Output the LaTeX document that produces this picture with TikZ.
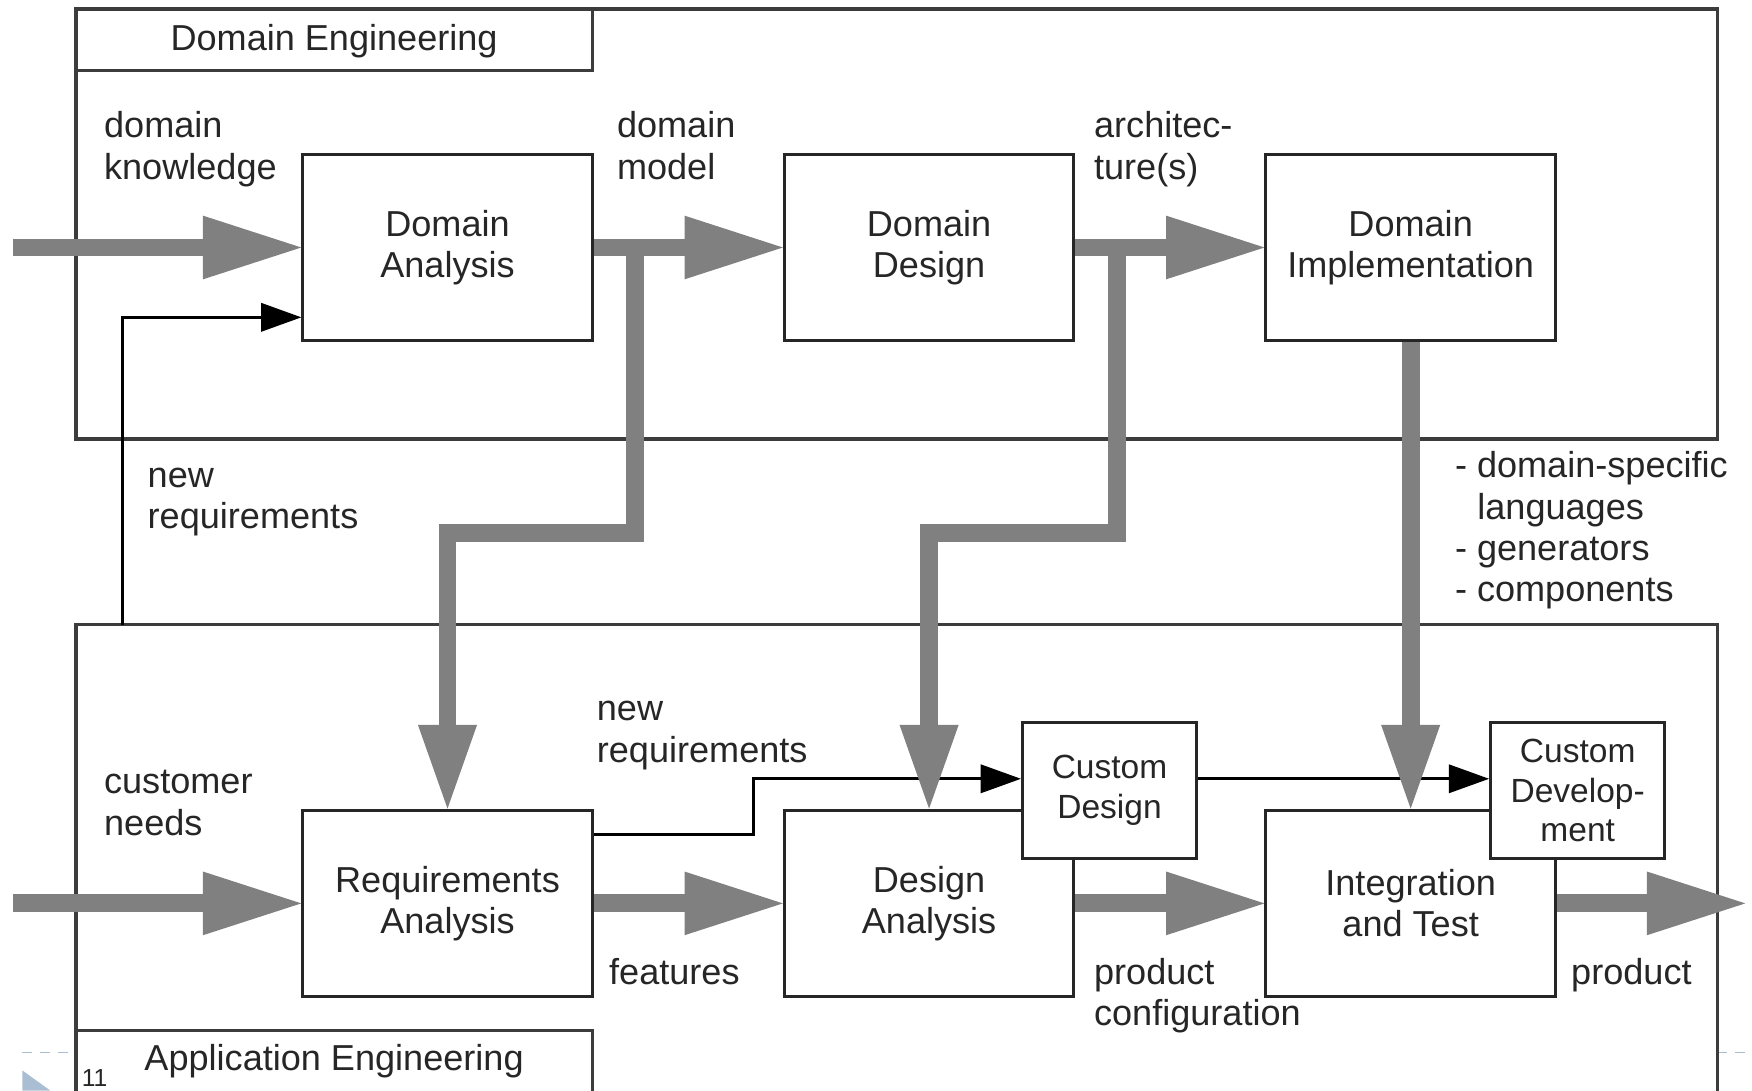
\documentclass[tikz,border=0pt]{standalone}
\usepackage{fontspec}
\setmainfont{Liberation Sans}
\usetikzlibrary{arrows.meta,calc}
\definecolor{flowgrey}{HTML}{808080}
\definecolor{framegrey}{HTML}{3C3C3C}
\definecolor{inkgrey}{HTML}{262626}
\definecolor{slideblue}{HTML}{A9BED3}

\begin{document}
\begin{tikzpicture}[x=1pt,y=-1pt,
  every node/.style={font=\fontsize{32.3pt}{37pt}\selectfont, text=inkgrey},
  frame/.style={draw=framegrey, line width=3pt},
  title/.style={anchor=base, inner sep=0pt},
  process/.style={draw=inkgrey, line width=2.7pt, fill=white,
    minimum width=259pt, minimum height=167pt, align=center, inner sep=0pt},
  custombox/.style={draw=inkgrey, line width=2.7pt, fill=white,
    minimum width=156pt, minimum height=121pt, align=center, inner sep=0pt,
    font=\fontsize{30pt}{35.5pt}\selectfont},
  lbl/.style={align=left, inner sep=0pt, anchor=base west},
  flow/.style={draw=flowgrey, line width=16pt,
    -{Triangle[length=88pt,width=57pt,line width=0pt]}},
  flowdown/.style={draw=flowgrey, line width=16pt, line join=miter,
    -{Triangle[length=75pt,width=53pt,line width=0pt]}},
  thinflow/.style={draw=black, line width=2.7pt,
    -{Triangle[length=36pt,width=26pt,line width=0pt]}},
]
\useasboundingbox (0,0) rectangle (1568,976);

% slide decoration
\draw[slideblue, line width=1.3pt, dash pattern=on 9pt off 7pt] (20,942) -- (68,942);
\draw[slideblue, line width=1.3pt, dash pattern=on 9pt off 7pt] (1537,942) -- (1568,942);
\fill[slideblue] (20,958) -- (45,976) -- (20,976) -- cycle;

% engineering frames with their title tabs
\draw[frame] (68,8) rectangle (1537,393);
\draw[frame] (68,8) rectangle (530,63);
\node[title] (detitle) at (299,45.5) {Domain Engineering};
\draw[frame] (68,995) -- (68,559) -- (1537,559) -- (1537,995);
\draw[frame] (68,995) -- (68,922) -- (530,922) -- (530,995);
\node[title] (aetitle) at (299,958) {Application Engineering};

% process boxes
\node[process] (da)  at (400.5,221.5)  {Domain\\Analysis};
\node[process] (dd)  at (831.5,221.5)  {Domain\\Design};
\node[process] (di)  at (1262.5,221.5) {Domain\\Implementation};
\node[process] (ra)  at (400.5,808.5)  {Requirements\\Analysis};
\node[process] (dan) at (831.5,808.5)  {Design\\Analysis};
\node[process] (it)  at (1262.5,808.5) {Integration\\and Test};
\node[custombox] (cd)   at (993,707.5)  {Custom\\Design};
\node[custombox] (cdev) at (1412,707.5) {Custom\\Develop-\\ment};

% thin feedback connectors
\coordinate (nrstart) at (110,559);
\coordinate (nrlevel) at (0,284);
\draw[thinflow] (nrstart) |- (da.west |- nrlevel);
\coordinate (ralevel) at (0,746.5);
\coordinate (cdlevel) at (0,697);
\coordinate (nrbend) at (674,746.5);
\draw[thinflow] (ra.east |- ralevel) -- (nrbend) |- (cd.west |- cdlevel);
\draw[thinflow] (cd.east |- cdlevel) -- (cdev.west |- cdlevel);

% main flows
\coordinate (dkin) at (12,221.5);
\draw[flow] (dkin) -- (da.west);
\draw[flow] (da.east) -- (dd.west);
\draw[flow] (dd.east) -- (di.west);
\coordinate (cnin) at (12,808.5);
\draw[flow] (cnin) -- (ra.west);
\draw[flow] (ra.east) -- (dan.west);
\draw[flow] (dan.east) -- (it.west);
\coordinate (prout) at (1562,808.5);
\draw[flow] (it.east) -- (prout);

% flows from domain to application engineering
\coordinate (dmtap) at (568,221.5);
\coordinate (dmbend) at (568,477);
\draw[flowdown] (dmtap) -- (dmbend) -| (ra.north);
\coordinate (artap) at (1000,221.5);
\coordinate (arbend) at (1000,477);
\draw[flowdown] (artap) -- (arbend) -| (dan.north);
\draw[flowdown] (di.south) -- (it.north);

% labels (anchored at the baseline of their last line)
\node[lbl] (lbdk) at (93,160.5) {domain\\knowledge};
\node[lbl] (lbdm) at (552,160.5) {domain\\model};
\node[lbl] (lbar) at (979,160.5) {architec-\\ture(s)};
\node[lbl] (lbnr1) at (132,473) {new\\requirements};
\node[lbl] (lbcn) at (93,747.5) {customer\\needs};
\node[lbl] (lbnr2) at (534,682) {new\\requirements};
\node[lbl] (lbfe) at (545,881) {features};
\node[lbl] (lbpc) at (979,918) {product\\configuration};
\node[lbl] (lbpr) at (1406,881) {product};
\node[lbl] (lbas) at (1302,538.5) {- domain-specific\\\hspace*{20pt}languages\\- generators\\- components};

% page number
\node[anchor=base west, inner sep=0pt, font=\fontsize{22pt}{22pt}\selectfont] (pgnum) at (73,972) {11};
\end{tikzpicture}
\end{document}
